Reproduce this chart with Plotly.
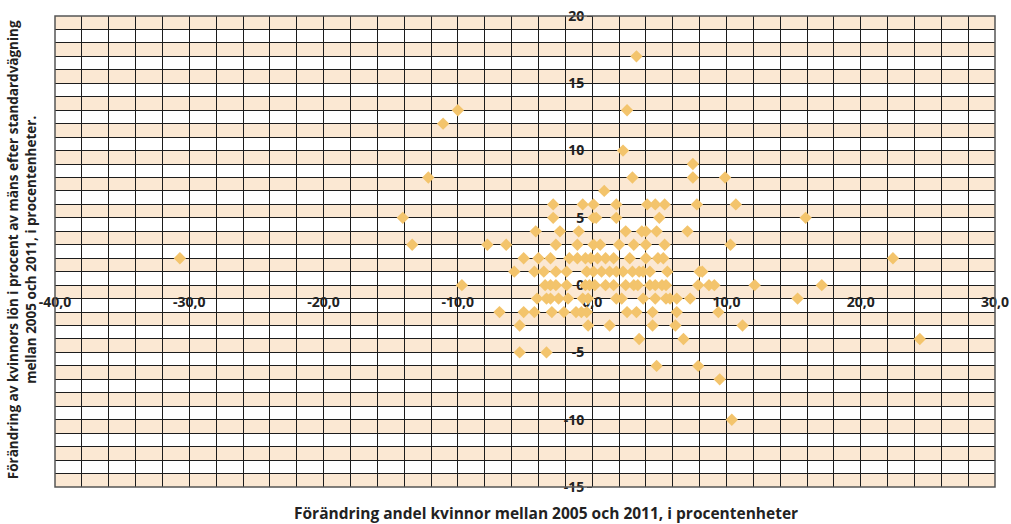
import plotly.graph_objects as go

# Förändring andel kvinnor (x) och förändring lön (y), avläst rad för rad
rows = {
    17: [3.3],
    13: [-10.0, 2.6],
    12: [-11.1],
    10: [2.3],
    9: [7.5],
    8: [-12.2, 3.0, 7.5, 9.9],
    7: [0.9],
    6: [-2.9, -0.7, 0.1, 1.8, 4.1, 4.7, 5.4, 7.8, 10.7],
    5: [-14.1, -2.9, 0.1, 0.3, 1.8, 5.0, 15.9],
    4: [-4.2, -2.4, -1.0, 2.5, 3.7, 4.0, 4.8, 7.1],
    3: [-13.4, -7.8, -6.4, -2.7, -1.1, 0.1, 0.6, 2.0, 3.1, 4.0, 5.4, 10.3],
    2: [-30.7, -5.1, -4.0, -3.1, -1.7, -1.1, -0.5, -0.1, 0.4, 1.0, 1.6, 2.8, 4.0, 4.9, 5.3, 22.4],
    1: [-5.8, -4.3, -3.6, -2.7, -1.9, -0.4, 0.1, 0.7, 1.3, 1.8, 2.3, 3.0, 3.5, 3.8, 4.3, 5.6, 8.0, 8.2],
    0: [-9.7, -3.5, -3.1, -2.7, -1.9, -0.5, -0.2, 0.2, 1.0, 1.6, 2.5, 3.1, 3.4, 4.3, 4.7, 5.2, 5.5,
        7.9, 8.7, 9.1, 12.1, 17.1],
    -1: [-4.1, -3.4, -3.1, -2.5, -1.8, -0.7, -0.3, 1.8, 2.2, 3.8, 4.7, 5.5, 5.8, 6.3, 7.3, 15.3],
    -2: [-6.9, -5.1, -4.3, -3.0, -2.1, -1.2, -0.8, -0.4, 2.6, 3.3, 4.5, 6.3, 9.4],
    -3: [-5.4, -0.3, 1.3, 4.5, 6.2, 11.2],
    -4: [3.5, 6.8, 24.4],
    -5: [-5.4, -3.4],
    -6: [4.8, 7.9],
    -7: [9.5],
    -10: [10.4],
}
x_vals = [x for y, xs in rows.items() for x in xs]
y_vals = [y for y, xs in rows.items() for x in xs]

x_ticks = [-40, -30, -20, -10, 0, 10, 20, 30]
x_ticktext = ["-40,0", "-30,0", "-20,0", "-10,0", "0,0", "10,0", "20,0", "30,0"]
y_ticks = [-15, -10, -5, 0, 5, 10, 15, 20]
y_ticktext = ["-15", "-10", "-5", "0", "5", "10", "15", "20"]

x_title = "Förändring andel kvinnor mellan 2005 och 2011, i procentenheter"
y_title = ("Förändring av kvinnors lön i procent av mäns efter standardvägning<br>"
           "mellan 2005 och 2011, i procentenheter.")

FONT = "Open Sans"
BAND = "#FBE8D3"
GRID = "#1c1c1c"
MARKER = "#F3C46C"

fig = go.Figure()
fig.add_trace(go.Scatter(
    x=x_vals, y=y_vals, mode="markers",
    marker=dict(symbol="diamond", size=9.5, color=MARKER),
    hoverinfo="x+y", showlegend=False,
))

# orange band every other unit
shapes = []
for lo in range(-15, 20, 2):
    shapes.append(dict(type="rect", xref="paper", yref="y", x0=0, x1=1, y0=lo, y1=lo + 1,
                       fillcolor=BAND, line=dict(width=0), layer="below"))
shapes.append(dict(type="rect", xref="paper", yref="paper", x0=0, x1=1, y0=0, y1=1,
                   line=dict(color="#555", width=1.5), layer="above"))

fig.update_layout(
    width=1011, height=524,
    margin=dict(l=55, r=16, t=16, b=37, autoexpand=False),
    paper_bgcolor="white", plot_bgcolor="white",
    font=dict(family=FONT, color="#222"),
    shapes=shapes,
    xaxis=dict(
        range=[-40, 30], anchor="free", position=15 / 35, automargin=False,
        tickvals=x_ticks, ticktext=x_ticktext,
        tickfont=dict(size=14, family=FONT, weight="bold"),
        ticks="outside", ticklen=4, tickcolor="rgba(0,0,0,0)",
        showgrid=True, gridcolor=GRID, gridwidth=1,
        minor=dict(dtick=2, showgrid=True, gridcolor=GRID, gridwidth=1),
        zeroline=True, zerolinecolor=GRID, zerolinewidth=1,
        showline=False, layer="below traces",
    ),
    yaxis=dict(
        range=[-15, 20], anchor="free", position=40 / 70, automargin=False,
        tickvals=y_ticks, ticktext=y_ticktext,
        tickfont=dict(size=14, family=FONT, weight="bold"),
        ticks="outside", ticklen=5, tickcolor=GRID,
        showgrid=True, gridcolor=GRID, gridwidth=1,
        minor=dict(dtick=1, showgrid=True, gridcolor=GRID, gridwidth=1),
        zeroline=True, zerolinecolor=GRID, zerolinewidth=1,
        showline=False, layer="below traces",
    ),
    annotations=[
        dict(text=x_title, xref="paper", yref="paper", x=0.522, y=-0.055,
             xanchor="center", yanchor="middle", showarrow=False,
             font=dict(size=15.5, family=FONT, weight="bold", color="#222")),
        dict(text=y_title, xref="paper", yref="paper", x=-0.035, y=0.503,
             xanchor="center", yanchor="middle", showarrow=False, textangle=-90,
             font=dict(size=13.5, family=FONT, weight="bold", color="#222")),
    ],
)

# drop the browser's default body margin so the figure sits at the window corner
fig.write_html("out.html", config={"displayModeBar": False},
               post_script="document.body.style.margin='0';")
